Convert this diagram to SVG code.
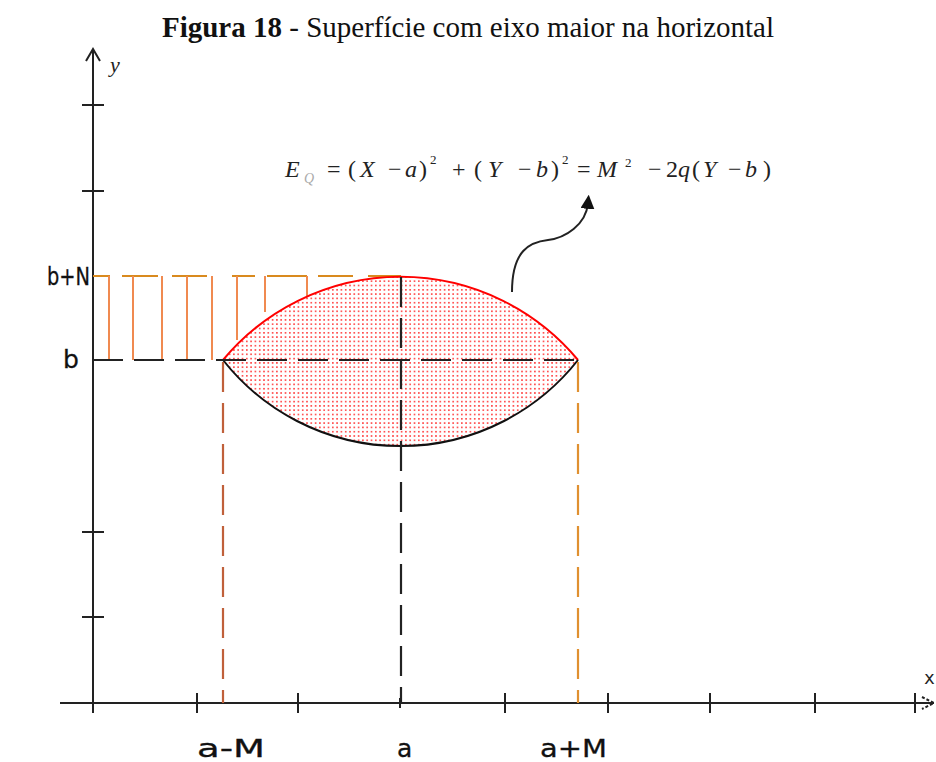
<svg xmlns="http://www.w3.org/2000/svg" width="936" height="762" viewBox="0 0 936 762">
<style>
.ax{stroke:#222;stroke-width:2;fill:none}
.tk{stroke:#222;stroke-width:2}
.dk{stroke:#222;stroke-width:2.2;stroke-dasharray:30,11;fill:none}
.or{stroke:#f08a50;stroke-width:2;fill:none}
.ot{stroke:#d98a1e;stroke-width:2;fill:none}
.lab{font-family:"DejaVu Sans",Verdana,sans-serif;font-size:25px;fill:#111;stroke:#111;stroke-width:0.3}
.frm{font-family:"Liberation Serif",serif;font-style:italic;font-size:24px;fill:#222}
.up{font-style:normal}
.sup{font-size:13px;font-style:normal}
</style>
<defs>
<pattern id="dots" width="4.3" height="4.3" patternUnits="userSpaceOnUse">
<rect x="1" y="1" width="1.4" height="1.4" fill="#f00"/>
</pattern>
<marker id="ah" markerWidth="14" markerHeight="14" refX="5" refY="6" orient="auto" markerUnits="userSpaceOnUse" viewBox="0 0 12 12">
<path d="M0,0 L12,6 L0,12 z" fill="#111"/>
</marker>
</defs>
<rect width="936" height="762" fill="#fff"/>
<text x="468" y="37" text-anchor="middle" font-family="Liberation Serif,serif" font-size="29px" fill="#111"><tspan font-weight="bold">Figura 18</tspan> - Superfície com eixo maior na horizontal</text>

<g id="axes">
<line class="ax" x1="93" y1="50" x2="93" y2="713"/>
<path class="ax" d="M86,61 L93,49 L100,61" stroke-width="1.5"/>
<line class="ax" x1="60" y1="703" x2="934" y2="703"/>
<path class="ax" d="M922,697 L934,703 L922,709" stroke-width="1.2" stroke-dasharray="3,2"/>
<g class="tk">
<line x1="82" y1="105" x2="104" y2="105"/>
<line x1="82" y1="191" x2="104" y2="191"/>
<line x1="82" y1="532" x2="104" y2="532"/>
<line x1="82" y1="617" x2="104" y2="617"/>
<line x1="93" y1="693" x2="93" y2="713"/>
<line x1="197" y1="693" x2="197" y2="713"/>
<line x1="298" y1="693" x2="298" y2="713"/>
<line x1="400" y1="698" x2="400" y2="708"/>
<line x1="505" y1="693" x2="505" y2="713"/>
<line x1="608" y1="693" x2="608" y2="713"/>
<line x1="710" y1="693" x2="710" y2="713"/>
<line x1="815" y1="693" x2="815" y2="713"/>
<line x1="915" y1="693" x2="915" y2="713"/>
</g>
<text x="110" y="72" font-family="Liberation Serif,serif" font-style="italic" font-size="22px" fill="#222">y</text>
<text x="924" y="684" font-family="DejaVu Sans Mono,monospace" font-size="18px" fill="#222">x</text>
</g>

<g id="hatch">
<path class="ot" d="M93,276 H110 M122,276 H158 M172,276 H207 M232,276 H255 M267,276 H307 M318,276 H353 M368,276 H401"/>
<path class="or" d="M109,276 V360 M133,276 V360 M162,276 V360 M187,276 V360 M212,276 V360 M237,276 V340 M265,276 V312 M307,276 V296"/>
</g>

<g id="lens">
<path d="M223,360 A231,231 0 0 1 578,360 A226,226 0 0 1 223,360 z" fill="url(#dots)"/>
<path d="M223,360 A231,231 0 0 1 578,360" fill="none" stroke="#f00" stroke-width="2"/>
<path d="M578,360 A226,226 0 0 1 223,360" fill="none" stroke="#111" stroke-width="2"/>
</g>

<g id="guides">
<line class="dk" x1="93" y1="360" x2="578" y2="360"/>
<line class="dk" x1="401" y1="277" x2="401" y2="703"/>
<line x1="223" y1="362" x2="223" y2="703" stroke="#c0603a" stroke-width="2.2" stroke-dasharray="30,11"/>
<line x1="578" y1="362" x2="578" y2="703" stroke="#e09030" stroke-width="2.2" stroke-dasharray="30,11"/>
</g>

<g id="connectors">
<path d="M512,292 C512,250 530,242 548,240 C565,238 586,225 588,203" fill="none" stroke="#222" stroke-width="2" marker-end="url(#ah)"/>
</g>

<g id="formula">
<text class="frm" y="177"><tspan x="285">E</tspan><tspan x="304" y="183" font-size="14px" fill="#aaa">Q</tspan><tspan class="up" x="327" y="177">=</tspan><tspan class="up" x="348">(</tspan><tspan x="360">X</tspan><tspan class="up" x="388">−</tspan><tspan x="405">a</tspan><tspan class="up" x="419">)</tspan><tspan class="sup" x="430" y="164">2</tspan><tspan class="up" x="452" y="177">+</tspan><tspan class="up" x="474">(</tspan><tspan x="488">Y</tspan><tspan class="up" x="518">−</tspan><tspan x="536">b</tspan><tspan class="up" x="551">)</tspan><tspan class="sup" x="562" y="164">2</tspan><tspan class="up" x="577" y="177">=</tspan><tspan x="597">M</tspan><tspan class="sup" x="625" y="167">2</tspan><tspan class="up" x="648" y="177">−</tspan><tspan class="up" x="666">2</tspan><tspan x="678">q</tspan><tspan class="up" x="692">(</tspan><tspan x="703">Y</tspan><tspan class="up" x="728">−</tspan><tspan x="745">b</tspan><tspan class="up" x="763">)</tspan></text>
</g>

<g id="labels">
<text class="lab" x="47" y="285" textLength="43" lengthAdjust="spacingAndGlyphs">b+N</text>
<text class="lab" x="63" y="368">b</text>
<text class="lab" x="197" y="757" textLength="68" lengthAdjust="spacingAndGlyphs">a-M</text>
<text class="lab" x="397" y="757">a</text>
<text class="lab" x="540" y="757" textLength="67" lengthAdjust="spacingAndGlyphs">a+M</text>
</g>
</svg>
